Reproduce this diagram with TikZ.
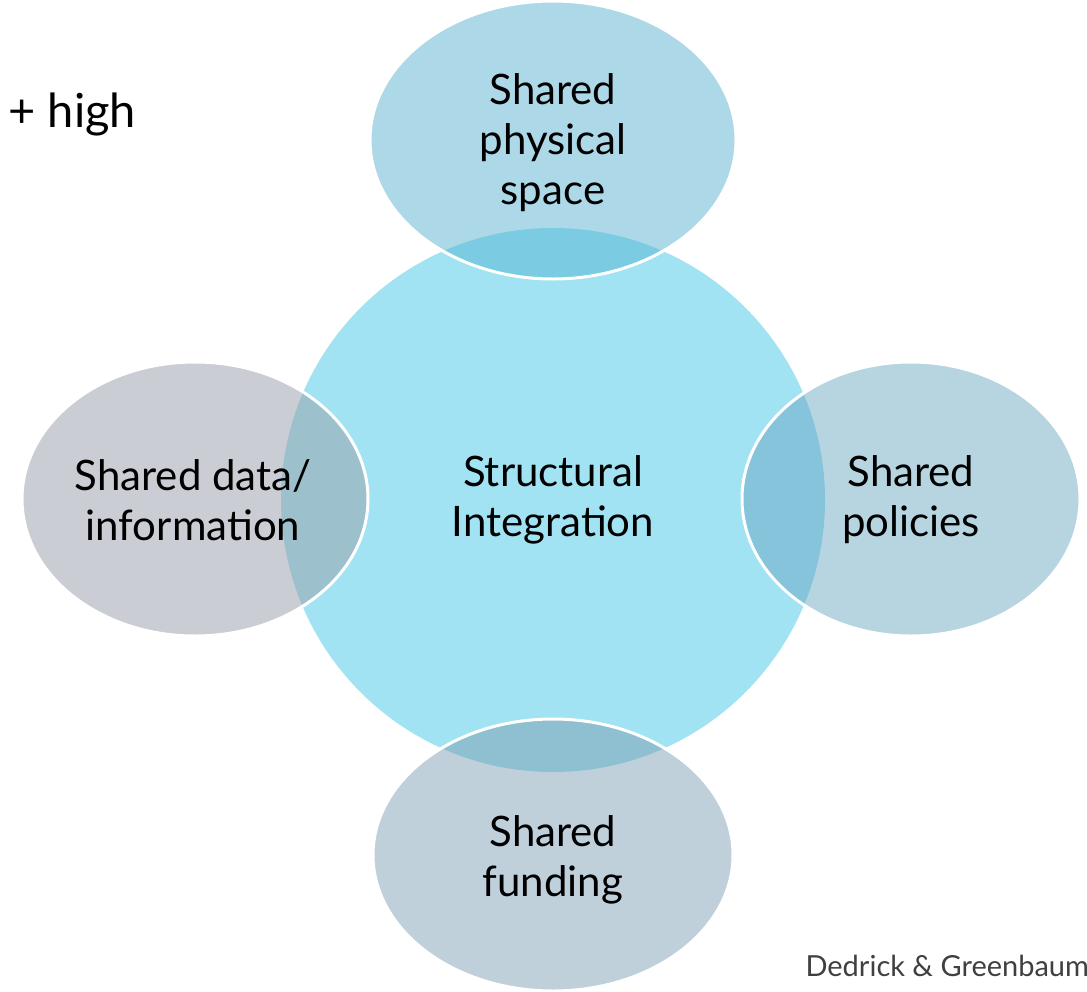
\documentclass[tikz,border=0pt]{standalone}
\usepackage{fontspec}
\setmainfont{Lato}
\begin{document}
\begin{tikzpicture}[x=1pt,y=1pt,
  label/.style={align=center,text=black,font=\fontsize{42}{50}\selectfont},
  rim/.style={draw=white,line width=3pt}]
\useasboundingbox (0,0) rectangle (1087,-991);
\definecolor{hubfill}{HTML}{A1E3F2}
\definecolor{topfill}{HTML}{ADD8E8}
\definecolor{topover}{HTML}{7BCCE3}
\definecolor{leftfill}{HTML}{CACDD3}
\definecolor{leftover}{HTML}{9DC1CC}
\definecolor{rightfill}{HTML}{B7D4E1}
\definecolor{rightover}{HTML}{86C4DB}
\definecolor{botfill}{HTML}{BFD0DB}
\definecolor{botover}{HTML}{8FC0D2}
\definecolor{credit}{HTML}{404040}

% central hub
\fill[hubfill] (553,-500) circle (272);

% satellite: centre, radii, fill colour, overlap colour
\newcommand{\satellite}[5]{%
  \fill[#4] (#1) ellipse [x radius=#2, y radius=#3];
  \begin{scope}
    \clip (#1) ellipse [x radius=#2, y radius=#3];
    \fill[#5] (553,-500) circle (272);
  \end{scope}
  \draw[rim] (#1) ellipse [x radius=#2, y radius=#3];
}
\satellite{553,-140}{183}{139}{topfill}{topover}
\satellite{195,-499}{173}{137}{leftfill}{leftover}
\satellite{911,-499}{169}{137}{rightfill}{rightover}
\satellite{553,-855}{180}{136}{botfill}{botover}

\node[label] (hub) at (553,-500) {Structural\\Integration};
\node[label] (top) at (553,-143) {Shared\\physical\\space};
\node[label] (left) at (193,-500) {Shared data/\\information};
\node[label] (right) at (911,-500) {Shared\\policies};
\node[label] (bot) at (553,-860) {Shared\\funding};

\node[anchor=base west,font=\fontsize{47}{54}\selectfont] (level) at (5,-127) {+ high};
\node[anchor=base west,text=credit,font=\fontsize{29}{33}\selectfont] (src) at (802,-976) {Dedrick \& Greenbaum};
\end{tikzpicture}
\end{document}
